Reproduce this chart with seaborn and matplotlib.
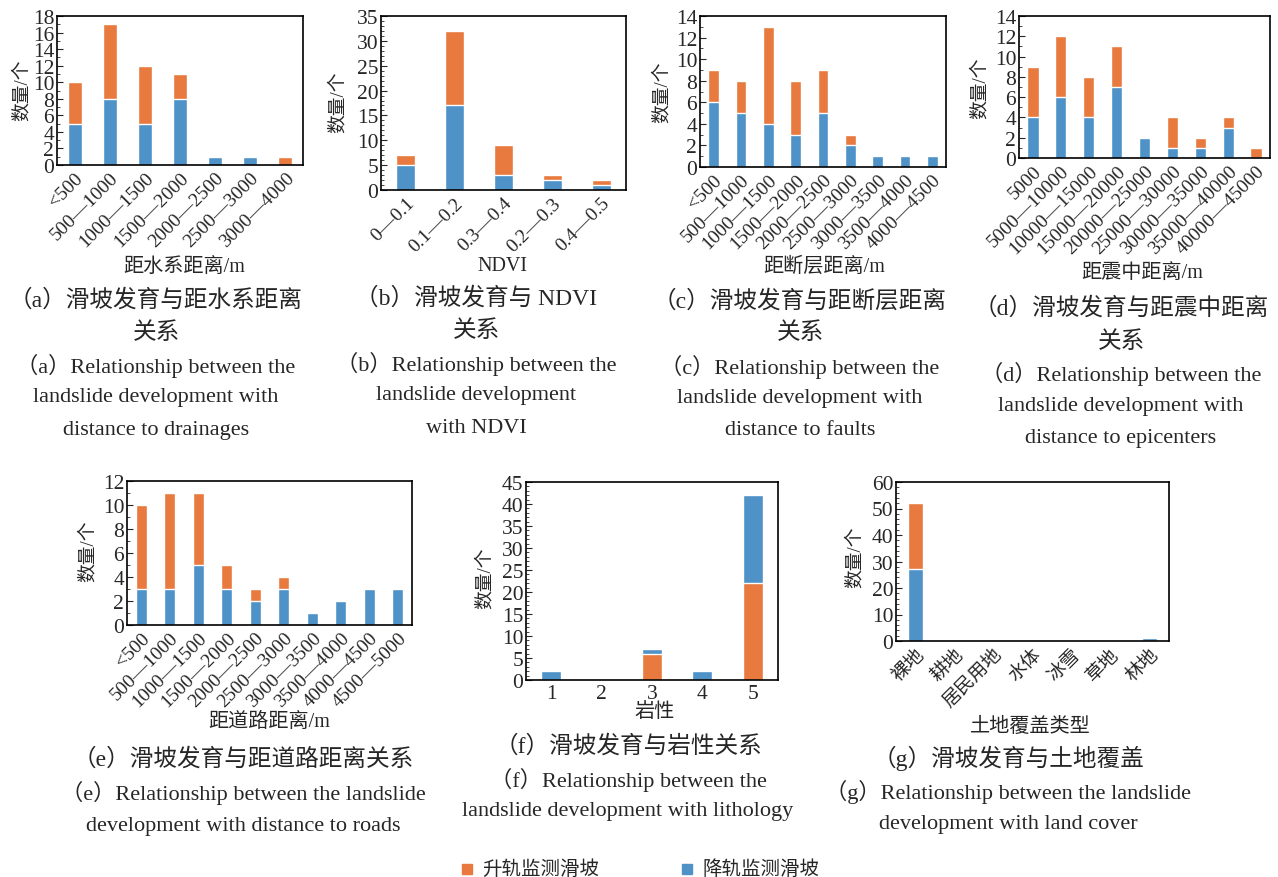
import matplotlib
matplotlib.use("Agg")
import matplotlib.pyplot as plt
from matplotlib.ticker import MultipleLocator
import seaborn as sns

W, H = 1278, 878
ORANGE = "#E8793F"
BLUE = "#4E92C8"

# ---------------- DATA ----------------
# (a) distance to drainages
a_cats = ["<500", "500—1000", "1000—1500", "1500—2000", "2000—2500", "2500—3000", "3000—4000"]
a_desc = [5, 8, 5, 8, 1, 1, 0]
a_asc = [5, 9, 7, 3, 0, 0, 1]

# (b) NDVI
b_cats = ["0—0.1", "0.1—0.2", "0.3—0.4", "0.2—0.3", "0.4—0.5"]
b_desc = [5, 17, 3, 2, 1]
b_asc = [2, 15, 6, 1, 1]

# (c) distance to faults
c_cats = ["<500", "500—1000", "1000—1500", "1500—2000", "2000—2500",
          "2500—3000", "3000—3500", "3500—4000", "4000—4500"]
c_desc = [6, 5, 4, 3, 5, 2, 1, 1, 1]
c_asc = [3, 3, 9, 5, 4, 1, 0, 0, 0]

# (d) distance to epicenters
d_cats = ["5000", "5000—10000", "10000—15000", "15000—20000", "20000—25000",
          "25000—30000", "30000—35000", "35000—40000", "40000—45000"]
d_desc = [4, 6, 4, 7, 2, 1, 1, 3, 0]
d_asc = [5, 6, 4, 4, 0, 3, 1, 1, 1]

# (e) distance to roads
e_cats = ["<500", "500—1000", "1000—1500", "1500—2000", "2000—2500",
          "2500—3000", "3000—3500", "3500—4000", "4000—4500", "4500—5000"]
e_desc = [3, 3, 5, 3, 2, 3, 1, 2, 3, 3]
e_asc = [7, 8, 6, 2, 1, 1, 0, 0, 0, 0]

# (f) lithology (ascending stacked at the bottom here)
f_cats = ["1", "2", "3", "4", "5"]
f_desc = [2, 0, 1, 2, 20]
f_asc = [0, 0, 6, 0, 22]

# (g) land cover
g_cats = ["裸地", "耕地", "居民用地", "水体", "冰雪", "草地", "林地"]
g_desc = [27, 0, 0, 0, 0, 0, 1]
g_asc = [25, 0, 0, 0, 0, 0, 0]

sns.set_theme(style="white")
plt.rcParams["font.family"] = ["Liberation Serif", "Noto Sans CJK SC"]
plt.rcParams["axes.unicode_minus"] = False

fig = plt.figure(figsize=(W / 100, H / 100), dpi=100)


def rect(x0, y0, x1, y1):
    return [x0 / W, 1 - y1 / H, (x1 - x0) / W, (y1 - y0) / H]


def put(x, y, s, size, **kw):
    fig.text(x / W, 1 - y / H, s, fontsize=size, ha="center", va="center", **kw)


def panel(box, cats, lower, upper, lower_col, upper_col, ymax, major, minor, tick_size=14):
    ax = fig.add_axes(rect(*box))
    total = [l + u for l, u in zip(lower, upper)]
    sns.barplot(x=cats, y=total, color=upper_col, width=0.4, saturation=1,
                errorbar=None, ax=ax)
    sns.barplot(x=cats, y=lower, color=lower_col, width=0.4, saturation=1,
                errorbar=None, ax=ax)
    ax.set_ylim(0, ymax)
    ax.yaxis.set_major_locator(MultipleLocator(major))
    ax.yaxis.set_minor_locator(MultipleLocator(minor))
    ax.tick_params(axis="y", which="major", direction="in", length=4, width=0.8,
                   labelsize=15.5, pad=2, left=True)
    ax.tick_params(axis="y", which="minor", direction="in", length=2, width=0.6, left=True)
    ax.tick_params(axis="x", length=0, labelsize=tick_size, pad=3)
    for spine in ax.spines.values():
        spine.set_visible(True)
        spine.set_color("black")
        spine.set_linewidth(1.2)
    ax.set_xlabel("")
    ax.set_ylabel("")
    return ax


def rotate(ax):
    for lab in ax.get_xticklabels():
        lab.set_rotation(45)
        lab.set_ha("right")
        lab.set_va("top")
        lab.set_rotation_mode("anchor")


# ---------------- PANELS ----------------
ax = panel((57, 17, 303, 166), a_cats, a_desc, a_asc, BLUE, ORANGE, 18, 2, 1)
rotate(ax)
ax = panel((381, 17, 626, 191), b_cats, b_desc, b_asc, BLUE, ORANGE, 35, 5, 1)
rotate(ax)
ax = panel((700, 17, 946, 168), c_cats, c_desc, c_asc, BLUE, ORANGE, 14, 2, 1)
rotate(ax)
ax = panel((1019, 17, 1270, 159), d_cats, d_desc, d_asc, BLUE, ORANGE, 14, 2, 1)
rotate(ax)
ax = panel((127, 482, 412, 626), e_cats, e_desc, e_asc, BLUE, ORANGE, 12, 2, 1)
rotate(ax)
ax = panel((526, 483, 778, 681), f_cats, f_asc, f_desc, ORANGE, BLUE, 45, 5, 1, tick_size=15.5)
ax = panel((896, 483, 1169, 642), g_cats, g_desc, g_asc, BLUE, ORANGE, 60, 10, 2, tick_size=13.5)
rotate(ax)

# ---------------- AXIS LABELS ----------------
for x, y in [(22, 90), (338, 102), (662, 92), (980, 88), (88, 551), (485, 578), (855, 557)]:
    put(x, y, "数量/个", 13.5, rotation=90)

put(184, 267, "距水系距离/m", 14.5)
put(502, 267, "NDVI", 14.5)
put(824, 267, "距断层距离/m", 14.5)
put(1142, 273, "距震中距离/m", 14.5)
put(269, 722, "距道路距离/m", 14.5)
put(655, 713, "岩性", 14.5)
put(1030, 727, "土地覆盖类型", 14.5)

# ---------------- CAPTIONS ----------------
captions = [
    (156, [300, 333, 366, 398, 430],
     ["（a）滑坡发育与距水系距离", "关系", "（a）Relationship between the",
      "landslide development with", "distance to drainages"]),
    (476, [298, 331, 364, 396, 429],
     ["（b）滑坡发育与 NDVI", "关系", "（b）Relationship between the",
      "landslide development", "with NDVI"]),
    (800, [301, 333, 367, 399, 431],
     ["（c）滑坡发育与距断层距离", "关系", "（c）Relationship between the",
      "landslide development with", "distance to faults"]),
    (1121, [308, 342, 374, 407, 439],
     ["（d）滑坡发育与距震中距离", "关系", "（d）Relationship between the",
      "landslide development with", "distance to epicenters"]),
    (243, [759, 793, 827],
     ["（e）滑坡发育与距道路距离关系", "（e）Relationship between the landslide",
      "development with distance to roads"]),
    (628, [746, 780, 812],
     ["（f）滑坡发育与岩性关系", "（f）Relationship between the",
      "landslide development with lithology"]),
    (1008, [758, 792, 825],
     ["（g）滑坡发育与土地覆盖", "（g）Relationship between the landslide",
      "development with land cover"]),
]
for cx, ys, lines in captions:
    for y, s in zip(ys, lines):
        size = 17 if any(0x4E00 <= ord(ch) <= 0x9FFF for ch in s) else 16
        put(cx, y, s, size)

# ---------------- LEGEND ----------------
for sx, col, label in [(467, ORANGE, "升轨监测滑坡"), (687, BLUE, "降轨监测滑坡")]:
    fig.patches.append(plt.Rectangle(((sx - 5) / W, 1 - 875 / H), 10 / W, 10 / H,
                                     transform=fig.transFigure, color=col))
    fig.text((sx + 15) / W, 1 - 870 / H, label, fontsize=14, ha="left", va="center")

fig.savefig("out.png", dpi=100)
plt.close(fig)
